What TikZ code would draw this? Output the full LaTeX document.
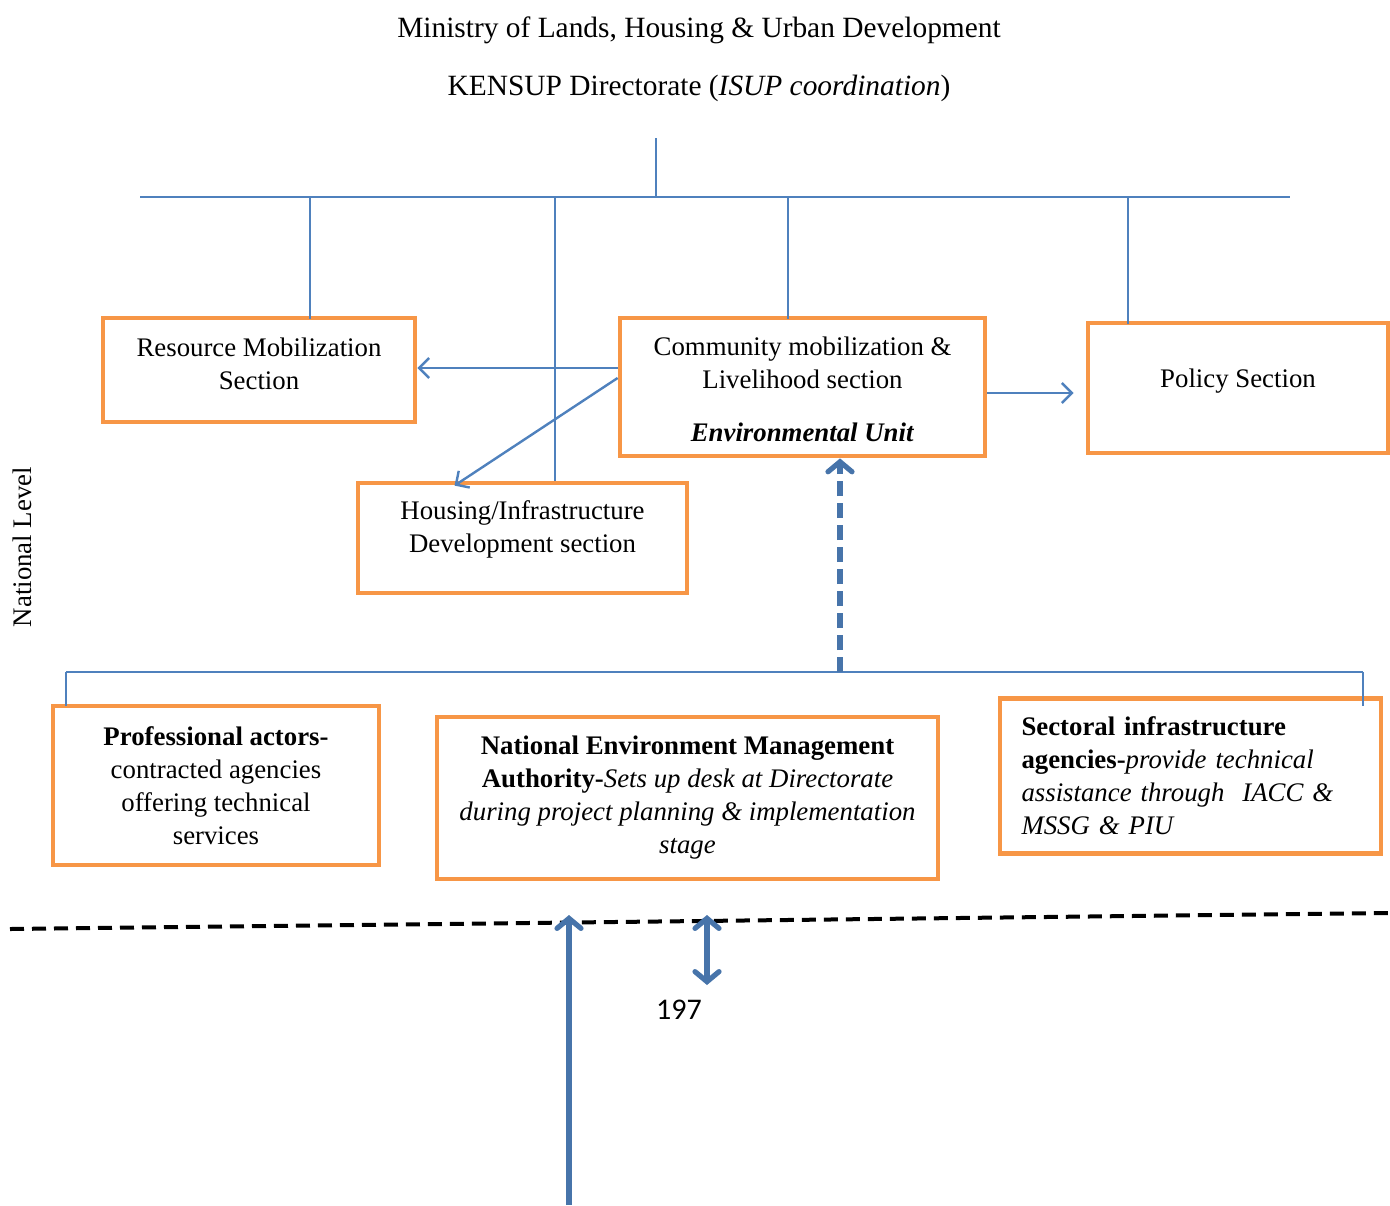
\documentclass[tikz,border=0pt]{standalone}
\usepackage{fontspec}
\setmainfont{Liberation Serif}
\newfontfamily\calibri{Carlito}
\usepackage{tikz}
\usetikzlibrary{positioning, arrows.meta, calc}
\definecolor{OffOrange}{RGB}{247,150,70}
\definecolor{OffBlue}{RGB}{79,129,189}

\begin{document}
\begin{tikzpicture}[x=0.5pt, y=-0.5pt,
          every node/.style={font=\fontsize{13.4}{16.5}\selectfont},
          head/.style={font=\fontsize{14.7}{18}\selectfont},
          sec/.style={rectangle, draw=OffOrange, line width=2.4pt,
                      align=center, inner sep=3pt},
          link/.style={draw=OffBlue, line width=1pt},
          arr/.style={-{Straight Barb[length=5pt, width=10pt]}, draw=OffBlue,
                      line width=1.2pt},
          bigarr/.style={-{Straight Barb[length=5pt, width=12pt, line cap=round]},
                      draw=OffBlue!90!black, line width=2.6pt},
          dblarr/.style={{Straight Barb[length=5pt, width=12pt, line cap=round]}-{Straight Barb[length=5pt, width=12pt, line cap=round]},
                      draw=OffBlue!90!black, line width=2.6pt}
        ]
        \useasboundingbox (0,0) rectangle (1390,1205);

        \node[head] (title) at (699,30) {Ministry of Lands, Housing \& Urban Development};
        \node[head] (dir)   at (699,88) {KENSUP Directorate (\textit{ISUP coordination})};

        % national sections
        \node[sec, minimum width=156pt, minimum height=52pt]
              (rms) at (259,370) {Resource Mobilization\\Section\rule[-6pt]{0pt}{6pt}};
        \node[sec, minimum width=182.5pt, minimum height=69pt]
              (cml) at (802.5,387)
              {\rule{0pt}{12pt}Community mobilization \&\\Livelihood section\\[10pt]
               \textbf{\textit{Environmental Unit}}};
        \node[sec, minimum width=150pt, minimum height=65pt]
              (pol) at (1238,388) {Policy Section\rule[-10pt]{0pt}{10pt}};
        \node[sec, minimum width=164.5pt, minimum height=55pt]
              (hid) at (522.5,538)
              {Housing/Infrastructure\\Development section\rule[-11pt]{0pt}{11pt}};

        \node[rotate=90] (nat) at (22,547) {National Level};

        % support actors
        \node[sec, minimum width=163pt, minimum height=79.5pt]
              (pro) at (216,785.5)
              {\textbf{Professional actors-}\\contracted agencies\\offering technical\\services};
        \node[sec, minimum width=250.5pt, minimum height=81pt]
              (nema) at (687.5,798)
              {\textbf{National Environment Management}\\
               \textbf{Authority-}\textit{Sets up desk at Directorate}\\
               \textit{during project planning \& implementation}\\
               \textit{stage}};
        \node[sec, minimum width=190.5pt, minimum height=77.5pt,
              text width=169pt, align=left]
              (sia) at (1190.5,776)
              {\textbf{Sectoral infrastructure agencies-}\textit{provide technical
               assistance through\ \ IACC \&\\ MSSG \& PIU}};

        \node[font=\calibri\fontsize{15}{18}\selectfont] (pg) at (679,1010) {197};

        % bus lines
        \coordinate (top)  at (656,138);
        \coordinate (busL) at (140,197);
        \coordinate (busR) at (1290,197);
        \coordinate (lowL) at (66,672);
        \coordinate (lowR) at (1363,672);

        \draw[link] (top) -- (top |- busL);
        \draw[link] (busL) -- (busR);
        \foreach \x/\n in {310/rms, 788/cml, 1128/pol}{
          \draw[link] (\x,197) -- ($(\x,197 |- \n.north)+(0,3)$);
        }
        \draw[link] (555,197) -- (555,197 |- hid.north);

        \draw[link] (lowL) -- (lowR);
        \draw[link] (lowL) -- (66,706);
        \draw[link] (lowR) -- (1363,706);

        % flows
        \draw[arr] ([yshift=9.5pt]cml.west) -- ([yshift=9.5pt]cml.west -| rms.east);
        \draw[arr] ([yshift=4.5pt]cml.west) -- ([xshift=-34pt,yshift=-2.5pt]hid.north);
        \draw[arr, shorten >=6pt] ([yshift=-3pt]cml.east) -- ([yshift=-3pt]cml.east -| pol.west);
        \draw[bigarr, dash pattern=on 7.5pt off 3.5pt]
              ([xshift=18.75pt]cml.south |- lowL) -- ([xshift=18.75pt]cml.south);

        % county boundary
        \coordinate (cutL) at (10,929);
        \coordinate (cutR) at (1390,913);
        \draw[black, line width=2pt, dash pattern=on 7pt off 4pt] (cutL) -- (cutR);

        \coordinate (up1) at (569,915);
        \coordinate (up2) at (707,915);
        \draw[bigarr] (569,1205) -- (up1);
        \draw[dblarr] (up2) -- (707,985);
      \end{tikzpicture}
\end{document}
